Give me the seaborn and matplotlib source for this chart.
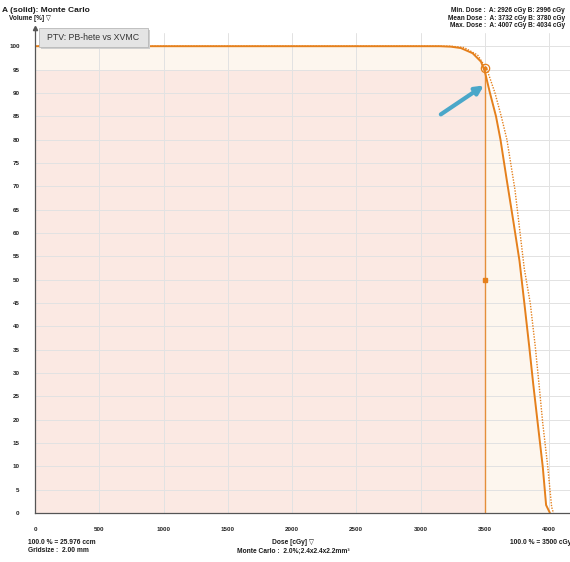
import matplotlib
matplotlib.use("Agg")
import matplotlib.pyplot as plt
import seaborn as sns
import pandas as pd
from matplotlib.patches import Rectangle

# Dose-volume histogram, PTV: pencil beam (hete) vs XVMC Monte Carlo
dose_a = [0, 3150, 3236, 3314, 3405, 3470, 3500, 3540, 3587, 3622, 3670,
          3725, 3770, 3808, 3846, 3877, 3912, 3951, 3977, 4007]
vol_a = [100, 100, 99.9, 99.6, 98.5, 96.7, 94.6, 90, 85, 80, 71.5,
         62, 54, 44.9, 35.6, 27.6, 19.2, 9.9, 1.7, 0]

dose_b = [0, 3240, 3340, 3444, 3517, 3579, 3628, 3672, 3735, 3807, 3854,
          3893, 3925, 3951, 3990, 4020, 4034]
vol_b = [100, 100, 99.7, 98.1, 95, 90, 85, 80, 69.2, 52.4, 44.9,
         35.6, 26.7, 19.2, 9.9, 1.3, 0]

x_ticks = [0, 500, 1000, 1500, 2000, 2500, 3000, 3500, 4000]
y_ticks = list(range(0, 101, 5))

prescribed_dose = 3500
coverage_volume = 95
mid_volume = 50

stats_lines = ["Min. Dose :  A: 2926 cGy B: 2996 cGy",
               "Mean Dose :  A: 3732 cGy B: 3780 cGy",
               "Max. Dose :  A: 4007 cGy B: 4034 cGy"]

ORANGE = "#e5801c"
PINK = "#fbe9e3"
CREAM = "#fdf6ee"
GRID = "#e2e2e2"
AXIS = "#555555"

sns.set_theme(style="white")
plt.rcParams["font.family"] = ["Liberation Sans", "DejaVu Sans"]

W, H = 570, 562
fig = plt.figure(figsize=(W / 100, H / 100), dpi=100)
ax = fig.add_axes([35 / W, (H - 513) / H, (W - 35) / W, (513 - 28) / H])
ax.set_xlim(0, 4163)
ax.set_ylim(0, 103.9)

df_a = pd.DataFrame({"dose": dose_a, "volume": vol_a})
df_b = pd.DataFrame({"dose": dose_b, "volume": vol_b})

# shaded areas
ax.fill_between(df_a["dose"], df_a["volume"], 0, color=CREAM, lw=0, zorder=0)
ax.add_patch(Rectangle((0, 0), prescribed_dose, coverage_volume,
                       facecolor=PINK, edgecolor="none", zorder=0.5))

for x in x_ticks:
    ax.plot([x, x], [0, 102.8], color=GRID, lw=0.7, zorder=1)
for y in y_ticks:
    ax.axhline(y, color=GRID, lw=0.7, zorder=1)

sns.lineplot(data=df_a, x="dose", y="volume", ax=ax, color=ORANGE, lw=1.4,
             sort=False, estimator=None, zorder=4)
sns.lineplot(data=df_b, x="dose", y="volume", ax=ax, color=ORANGE, lw=1.0,
             ls=(0, (1, 1)), sort=False, estimator=None, zorder=4)

ax.plot([prescribed_dose, prescribed_dose], [0, coverage_volume], color=ORANGE,
        lw=1.0, alpha=0.85, zorder=3)
ax.plot(prescribed_dose, coverage_volume + 0.3, marker="o", ms=6, mfc="none",
        mec=ORANGE, mew=0.9, zorder=5)
ax.plot(prescribed_dose, coverage_volume + 0.3, marker="o", ms=2, color=ORANGE, zorder=5)
ax.plot(prescribed_dose, mid_volume, marker="s", ms=2.5, color=ORANGE, zorder=5)

ax.annotate("", xy=(3493, 91.6), xytext=(3158, 85.4),
            arrowprops=dict(arrowstyle="-|>", color="#4aa7c9", lw=3,
                            mutation_scale=12, shrinkA=0, shrinkB=0), zorder=6)

ax.set_xticks(x_ticks)
ax.set_yticks(y_ticks)
ax.set_xlabel("")
ax.set_ylabel("")
for s in ["top", "right"]:
    ax.spines[s].set_visible(False)
for s in ["left", "bottom"]:
    ax.spines[s].set_color(AXIS)
    ax.spines[s].set_linewidth(0.9)
    ax.spines[s].set_zorder(7)
ax.tick_params(direction="inout", length=6, width=0.8, color=AXIS,
               labelsize=4.5, labelcolor="#222222")
ax.tick_params(axis="x", pad=7)
ax.tick_params(axis="y", pad=8)
for lab in ax.get_xticklabels() + ax.get_yticklabels():
    lab.set_fontweight("bold")

# arrow tip on top of the volume axis
ax.plot(0, 103.9, marker="^", ms=3, color=AXIS, clip_on=False, zorder=8)

def ftxt(x, y, s, **kw):
    kw.setdefault("fontweight", "bold")
    kw.setdefault("color", "#1a1a1a")
    fig.text(x / W, 1 - y / H, s, va="center", **kw)

ftxt(2, 10, "A (solid): Monte Carlo", fontsize=6.0)
ftxt(9, 19, "Volume [%] \u25bd", fontsize=4.7)
for i, line in enumerate(stats_lines):
    ftxt(565, 11 + i * 7.4, line, fontsize=4.7, ha="right")

ftxt(28, 543, "100.0 % = 25.976 ccm", fontsize=4.8)
ftxt(28, 551, "Gridsize :  2.00 mm", fontsize=4.8)
ftxt(293, 543, "Dose [cGy] \u25bd", fontsize=4.8, ha="center")
ftxt(293, 551, "Monte Carlo :  2.0%;2.4x2.4x2.2mm\u00b3", fontsize=4.8, ha="center")
ftxt(510, 543, "100.0 % = 3500 cGy", fontsize=4.8)

# label box with a soft drop shadow
fig.patches.append(Rectangle((41 / W, 1 - 49 / H), 109 / W, 19 / H,
                             transform=fig.transFigure, facecolor="#cfcfcf",
                             edgecolor="none", zorder=9))
fig.patches.append(Rectangle((39 / W, 1 - 47 / H), 109 / W, 19 / H,
                             transform=fig.transFigure, facecolor="#e4e4e4",
                             edgecolor="#b8b8b8", lw=0.6, zorder=9.5))
fig.text(93.5 / W, 1 - 37.5 / H, "PTV: PB-hete vs XVMC", fontsize=6.3,
         color="#333333", ha="center", va="center", zorder=10)

fig.savefig("out.png", dpi=100, facecolor="white")
